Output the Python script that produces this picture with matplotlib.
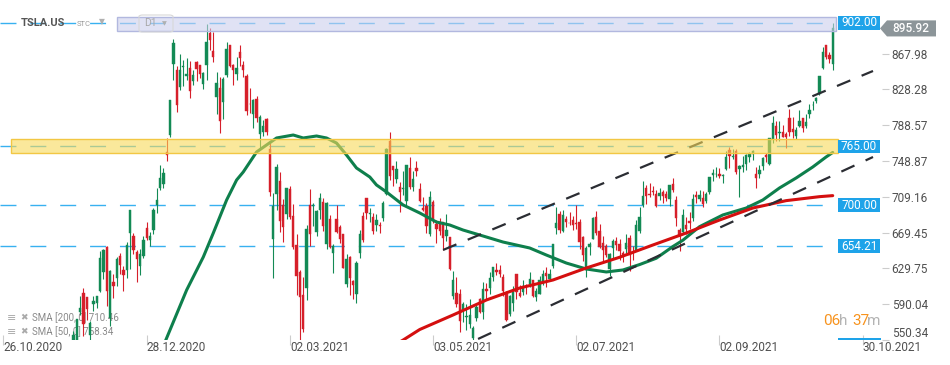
import numpy as np
import matplotlib
matplotlib.use("Agg")
import matplotlib.pyplot as plt
from matplotlib.patches import Rectangle, Polygon, FancyBboxPatch
from matplotlib.transforms import blended_transform_factory

# daily bars, first visible one (24.11.2020) is bar 21 counted from 26.10.2020
first_bar = 21
opens = [540.40, 550.06, 581.16, 602.21, 597.59, 556.44, 590.02, 591.01, 604.92, 625.51,
         653.69, 574.37, 615.01, 619.00, 643.28, 628.23, 628.19, 668.90, 666.24, 648.00,
         632.20, 642.99, 674.51, 661.00, 672.00, 699.99, 719.46, 723.66, 758.49, 777.63,
         856.00, 849.40, 831.00, 852.76, 843.39, 852.00, 837.80, 858.74, 855.00, 834.31,
         855.00, 891.38, 870.35, 820.00, 830.00, 814.29, 844.68, 877.02, 855.00, 845.00,
         869.67, 855.12, 843.64, 812.44, 801.26, 818.00, 779.09, 780.90, 795.00, 762.64,
         662.13, 711.85, 726.15, 700.00, 690.11, 718.28, 687.99, 655.80, 626.06, 600.55,
         608.18, 700.30, 699.40, 670.00, 694.09, 703.35, 656.87, 684.29, 646.60, 684.59,
         675.77, 667.91, 613.00, 641.87, 615.64, 601.75, 646.62, 688.37, 707.71, 690.30,
         687.00, 677.38, 677.77, 685.70, 712.70, 770.70, 743.10, 728.65, 719.60, 717.42,
         704.77, 741.50, 719.80, 741.00, 717.96, 696.41, 699.51, 667.59, 703.80, 678.94,
         681.06, 680.76, 665.80, 664.90, 599.24, 602.49, 601.54, 583.41, 575.55, 568.00,
         552.55, 575.00, 596.11, 581.60, 607.31, 607.56, 620.24, 628.50, 627.80, 620.13,
         601.80, 579.71, 591.83, 623.01, 602.17, 603.88, 610.23, 612.23, 616.69, 597.54,
         601.89, 613.37, 624.48, 618.25, 632.00, 674.99, 689.58, 671.64, 684.65, 679.77,
         683.92, 678.98, 681.71, 664.27, 628.37, 653.18, 662.20, 686.32, 670.75, 658.39,
         654.68, 629.29, 651.99, 659.61, 656.44, 646.36, 650.97, 663.40, 647.00, 649.79,
         671.76, 700.00, 719.00, 711.00, 716.00, 711.90, 710.17, 713.99, 712.71, 706.34,
         723.71, 705.07, 672.66, 669.75, 678.21, 682.85, 685.44, 710.68, 707.03, 708.31,
         705.00, 714.72, 733.00, 734.08, 734.50, 732.25, 740.00, 761.58, 753.41, 759.60,
         740.21, 742.57, 745.00, 752.83, 757.15, 734.56, 734.79, 743.53, 755.00, 745.89,
         773.12, 787.20, 779.80, 781.00, 778.40, 796.50, 784.80, 776.20, 787.20, 796.21,
         787.65, 800.93, 810.47, 815.49, 823.73, 851.77, 877.53, 866.60, 856.00]
highs = [559.99, 574.00, 598.78, 607.80, 597.85, 571.54, 598.97, 599.04, 648.79, 651.28,
         654.32, 627.75, 624.00, 642.75, 646.90, 632.50, 658.82, 695.00, 668.50, 649.88,
         651.50, 666.09, 681.40, 669.90, 696.60, 718.72, 744.49, 740.84, 774.00, 816.99,
         884.49, 854.43, 868.00, 860.47, 863.00, 859.90, 850.00, 859.50, 855.72, 848.00,
         900.40, 895.90, 891.50, 848.00, 842.41, 842.00, 880.50, 878.08, 856.50, 864.77,
         877.77, 859.80, 844.82, 829.88, 817.33, 821.00, 799.84, 794.69, 796.79, 768.50,
         713.61, 745.00, 737.21, 706.70, 719.00, 721.11, 700.70, 668.45, 627.84, 620.13,
         678.09, 717.85, 702.50, 694.88, 713.18, 707.92, 703.73, 689.23, 657.23, 699.62,
         677.80, 668.02, 645.50, 643.82, 616.48, 637.66, 672.00, 692.42, 708.16, 696.55,
         691.38, 689.55, 680.97, 704.80, 763.00, 780.79, 743.69, 749.41, 725.40, 737.25,
         744.84, 753.77, 737.36, 749.30, 724.00, 708.50, 702.25, 715.47, 706.00, 683.45,
         685.30, 681.02, 690.00, 665.05, 627.10, 620.41, 606.46, 592.87, 589.73, 596.25,
         566.21, 588.85, 596.68, 614.48, 613.99, 626.17, 631.13, 635.59, 633.80, 623.36,
         604.55, 600.61, 610.00, 623.09, 611.79, 616.59, 612.56, 625.49, 616.79, 608.50,
         621.47, 628.35, 631.39, 628.57, 657.20, 697.62, 693.81, 694.70, 687.51, 692.81,
         687.99, 700.00, 684.00, 665.70, 654.43, 658.91, 687.24, 693.28, 678.61, 666.14,
         656.70, 647.20, 662.39, 664.86, 662.17, 648.80, 668.20, 666.50, 654.97, 683.69,
         697.53, 726.94, 722.65, 724.90, 720.95, 716.33, 719.03, 716.59, 715.18, 722.80,
         729.90, 709.50, 674.58, 695.77, 686.55, 692.13, 712.13, 715.22, 716.97, 715.40,
         715.00, 731.00, 740.39, 741.99, 740.97, 734.00, 760.20, 764.45, 762.10, 762.61,
         744.78, 754.47, 756.86, 758.91, 761.04, 742.00, 744.74, 753.67, 758.20, 774.80,
         799.00, 793.50, 793.50, 789.13, 780.78, 806.97, 797.31, 786.66, 805.00, 796.38,
         801.24, 812.32, 815.41, 820.25, 843.21, 875.00, 877.95, 869.49, 902.00]
lows = [526.20, 545.37, 578.45, 554.51, 572.05, 541.21, 582.43, 585.50, 603.05, 618.50,
        588.00, 566.34, 596.80, 610.20, 623.80, 605.00, 619.50, 628.54, 646.07, 614.23,
        622.57, 641.00, 660.80, 655.00, 668.36, 691.12, 717.19, 719.20, 749.10, 775.20,
        838.39, 803.62, 827.34, 832.00, 838.75, 819.10, 833.00, 837.28, 841.42, 828.62,
        838.82, 871.60, 858.66, 801.00, 780.10, 795.56, 842.20, 853.06, 833.42, 838.97,
        854.75, 841.75, 800.02, 801.73, 785.33, 792.44, 762.01, 776.27, 777.37, 710.20,
        619.00, 694.17, 670.58, 659.51, 685.05, 685.00, 651.71, 600.00, 539.49, 558.79,
        595.21, 655.06, 677.18, 666.14, 684.04, 671.00, 651.01, 652.00, 624.62, 668.75,
        657.51, 630.11, 609.50, 599.89, 596.02, 591.01, 641.11, 659.42, 684.70, 681.37,
        667.84, 671.65, 669.43, 682.09, 710.66, 728.03, 721.31, 724.60, 691.80, 710.69,
        698.00, 718.04, 715.46, 732.61, 703.35, 693.60, 668.50, 666.14, 680.50, 657.70,
        667.34, 650.00, 660.22, 627.61, 595.60, 586.77, 559.65, 570.46, 561.20, 563.38,
        546.98, 571.07, 580.00, 573.65, 595.71, 601.50, 616.21, 622.38, 620.55, 599.14,
        571.22, 577.20, 582.88, 595.50, 597.63, 600.50, 601.52, 609.18, 598.23, 593.50,
        601.34, 611.80, 608.88, 615.50, 630.04, 667.61, 668.70, 670.32, 675.89, 678.14,
        672.80, 673.26, 651.40, 638.32, 620.46, 644.69, 662.16, 666.30, 652.84, 637.88,
        642.20, 621.29, 640.50, 650.29, 639.10, 637.30, 647.11, 627.24, 639.40, 648.80,
        669.00, 698.40, 701.01, 708.93, 711.41, 697.63, 705.13, 701.88, 704.21, 699.40,
        714.34, 676.40, 648.84, 669.35, 667.59, 673.70, 682.70, 702.64, 704.00, 697.62,
        702.10, 712.73, 726.44, 731.27, 730.54, 724.20, 739.26, 740.77, 751.63, 734.52,
        708.85, 736.40, 738.36, 747.61, 750.00, 718.63, 730.44, 739.12, 747.92, 744.56,
        769.31, 770.68, 770.68, 775.00, 763.59, 776.12, 774.20, 773.22, 786.22, 780.91,
        785.50, 796.57, 805.78, 813.35, 822.35, 851.27, 862.51, 857.38, 849.86]
closes = [555.38, 574.00, 585.76, 567.60, 584.76, 568.82, 593.38, 599.04, 641.76, 649.88,
          604.48, 627.07, 609.99, 639.83, 633.25, 622.77, 655.90, 695.00, 649.86, 640.34,
          645.98, 661.77, 663.69, 665.99, 694.78, 705.67, 729.77, 735.11, 755.98, 816.04,
          880.02, 811.19, 849.44, 854.41, 845.00, 826.16, 844.55, 850.45, 844.99, 846.64,
          880.80, 883.09, 864.16, 835.43, 793.53, 839.81, 872.79, 854.69, 849.99, 852.23,
          863.42, 849.46, 804.82, 811.66, 816.12, 796.22, 798.15, 787.38, 781.30, 714.50,
          698.84, 742.02, 682.22, 675.50, 718.43, 686.44, 653.20, 621.44, 597.95, 563.00,
          673.58, 668.06, 699.60, 693.73, 707.94, 676.88, 701.81, 653.16, 654.87, 670.00,
          662.16, 630.27, 640.39, 618.71, 611.29, 635.62, 667.93, 661.75, 691.05, 691.62,
          670.97, 683.80, 677.02, 701.98, 762.32, 732.23, 738.85, 739.78, 714.63, 718.99,
          744.12, 719.69, 729.40, 738.20, 704.74, 694.40, 677.00, 709.44, 684.90, 673.60,
          670.94, 663.54, 672.37, 629.04, 617.20, 589.89, 571.69, 589.74, 576.83, 577.87,
          563.46, 586.78, 580.88, 606.44, 604.69, 619.13, 630.85, 625.22, 623.90, 605.12,
          572.84, 599.05, 605.13, 603.59, 598.78, 610.12, 609.89, 617.69, 599.36, 604.87,
          616.60, 623.31, 620.83, 623.71, 656.57, 679.82, 671.87, 688.72, 680.76, 679.70,
          677.92, 678.90, 659.58, 644.65, 652.81, 656.95, 685.70, 668.54, 653.38, 650.60,
          644.22, 646.22, 660.50, 655.29, 649.26, 643.38, 657.62, 644.78, 646.98, 677.35,
          687.20, 709.67, 709.74, 710.92, 714.63, 699.10, 713.76, 709.99, 707.82, 722.25,
          717.17, 686.17, 665.71, 688.99, 673.47, 680.26, 706.30, 708.49, 711.20, 701.16,
          711.92, 730.91, 735.72, 734.09, 732.39, 733.57, 752.92, 753.87, 754.86, 736.27,
          743.00, 744.49, 755.83, 756.99, 759.49, 730.17, 739.38, 751.94, 753.64, 774.39,
          791.36, 777.56, 781.31, 775.48, 775.22, 781.53, 780.59, 782.75, 793.61, 785.49,
          791.94, 805.72, 811.08, 818.32, 843.03, 870.11, 864.27, 862.00, 895.92]

# moving averages (bar, value)
sma50_bars = [46, 49, 55, 60, 63, 67, 70, 72, 76, 82, 87, 90, 94, 97, 100, 103, 106, 110,
              112, 115, 120, 125, 130, 134, 138, 143, 150, 158, 163, 169, 175, 181, 186,
              191, 196, 201, 204, 209, 216, 223, 228, 233, 238, 243, 247, 249]
sma50_vals = [526.0, 552.6, 605.8, 642.4, 669.0, 705.6, 727.8, 736.7, 758.9, 774.4, 777.7,
              774.4, 776.6, 774.4, 768.8, 755.5, 741.1, 731.1, 722.3, 714.5, 700.1, 691.2,
              681.2, 677.9, 672.3, 666.8, 659.0, 652.4, 644.6, 635.7, 629.1, 625.8, 628.0,
              634.0, 641.0, 654.0, 661.0, 676.0, 689.0, 696.7, 705.6, 718.9, 730.0, 742.2,
              753.3, 758.34]
sma200_bars = [118, 120, 125, 135, 145, 155, 165, 175, 185, 195, 205, 215, 225, 235, 245, 249]
sma200_vals = [546.0, 550.3, 562.0, 578.1, 594.7, 608.0, 616.9, 630.2, 642.1, 655.7, 669.0,
               683.4, 696.7, 704.9, 709.3, 710.46]

# drawn trend channel (bar, price)
upper_trend = ([132.0, 261.1], [650.2, 848.7])
lower_trend = ([142.5, 261.1], [551.5, 753.3])

levels = [902.00, 765.00, 700.00, 654.21]
yellow_zone = [757.7, 773.3]
lilac_zone = [893.1, 908.6]
last_price = 895.92

price_ticks = [550.34, 590.04, 629.75, 669.45, 709.16, 748.87, 788.57, 828.28, 867.98]
date_ticks = [0, 43, 86, 129, 172, 215, 258]
date_labels = ['26.10.2020', '28.12.2020', '02.03.2021', '03.05.2021',
               '02.07.2021', '02.09.2021', '30.10.2021']

GREEN = '#138a55'
RED = '#d61f2a'
BLUE = '#1ea3e9'
LEVEL_BLUE = '#38b1f0'
SMA_GREEN = '#0e7f4c'
SMA_RED = '#d40f0f'

plt.rcParams['font.family'] = ['Roboto', 'DejaVu Sans']

W, H = 950, 365
fig = plt.figure(figsize=(W / 100, H / 100), dpi=100)
ax = fig.add_axes([0, 25 / H, 882 / W, 325 / H])
ax.set_xlim(-1.05, 263.8)
ax.set_ylim(550.34, 910.8)
for s in ax.spines.values():
    s.set_visible(False)

# candles
bars = np.arange(len(closes)) + first_bar
o, h, l, c = (np.array(v) for v in (opens, highs, lows, closes))
colors = np.where(c >= o, GREEN, RED)
ax.vlines(bars, l, h, colors=colors, lw=0.8, zorder=2)
ax.bar(bars, np.maximum(np.abs(c - o), 0.8), bottom=np.minimum(o, c), width=0.7,
       color=colors, edgecolor=colors, lw=0.3, zorder=3)

# moving averages and channel
ax.plot(sma50_bars, sma50_vals, color=SMA_GREEN, lw=2.2, zorder=4, solid_capstyle='round')
ax.plot(sma200_bars, sma200_vals, color=SMA_RED, lw=2.2, zorder=4, solid_capstyle='round')
for xs, ys in (upper_trend, lower_trend):
    ax.plot(xs, ys, color='#2b2d33', lw=1.6, ls=(0, (6.5, 5.5)), zorder=5)

# horizontal levels
for lv in levels:
    ax.plot([-1.05, 250], [lv, lv], color=LEVEL_BLUE, lw=1.0, ls=(0, (11.5, 10)), zorder=1.5)

# zones (semi-transparent, drawn above the candles)
ax.add_patch(Rectangle((2.25, yellow_zone[0]), 248.3, yellow_zone[1] - yellow_zone[0],
                       facecolor=(0.973, 0.855, 0.345, 0.6), edgecolor='#f2c744', lw=1, zorder=6))
ax.add_patch(Rectangle((34.1, lilac_zone[0]), 215.9, lilac_zone[1] - lilac_zone[0],
                       facecolor=(0.80, 0.816, 0.93, 0.6), edgecolor='#b2b8df', lw=1, zorder=6))

# axes ticks
ax.yaxis.tick_right()
ax.set_yticks(price_ticks, [f'{v:.2f}' for v in price_ticks])
ax.tick_params(axis='y', length=5, width=0.8, color='#cccccc', pad=2,
               labelsize=8.5, labelcolor='#505050')
ax.get_yticklabels()[0].set_va('bottom')
ax.set_xticks(date_ticks, date_labels)
ax.tick_params(axis='x', length=7, width=0.8, direction='inout', color='#cccccc', pad=-3,
               labelsize=8.5, labelcolor='#505050')
for lab in ax.get_xticklabels():
    lab.set_ha('left')

# price tags on the right
tr = blended_transform_factory(ax.transAxes, ax.transData)
for lv in levels:
    ax.add_patch(Rectangle((838 / 882, lv - 7.6), 42 / 882, 15.2, transform=tr,
                           facecolor=BLUE, edgecolor='none', zorder=8, clip_on=False))
    ax.text(859 / 882, lv, f'{lv:.2f}', transform=tr, ha='center', va='center',
            color='white', fontsize=8.5, zorder=9, clip_on=False)
dy = 8.9
px = np.array([880, 887, 936, 936, 887]) / 882
py = last_price + np.array([0, dy, dy, -dy, -dy])
ax.add_patch(Polygon(np.column_stack([px, py]), closed=True, transform=tr,
                     facecolor='#8c9599', edgecolor='none', zorder=8, clip_on=False))
ax.text(911 / 882, last_price, f'{last_price:.2f}', transform=tr, ha='center', va='center',
        color='white', fontsize=8.5, fontweight='medium', zorder=9, clip_on=False)


def fp(x, y):
    return x / W, 1 - y / H


ft = fig.transFigure

# header
ax.text(*fp(21, 23.5), 'TSLA.US', transform=ft, fontsize=8, fontweight='bold',
        color='#555555', va='center', zorder=10)
ax.text(*fp(77, 24.5), 'STC', transform=ft, fontsize=5.5, color='#9a9a9a', va='center', zorder=10)
ax.text(*fp(99, 21.5), '▼', transform=ft, fontsize=5.5, color='#b0b0b0', va='center',
        family=['DejaVu Sans'], zorder=10)
ax.add_patch(FancyBboxPatch(fp(139, 32), 34 / W, 17 / H, boxstyle='round,pad=0,rounding_size=0.004',
                            transform=ft, facecolor='none', edgecolor='#d8d8d8', lw=0.8,
                            zorder=10, clip_on=False))
ax.text(*fp(144, 23.5), 'D1', transform=ft, fontsize=7.5, color='#a8a8a8', va='center', zorder=10)
ax.text(*fp(162, 23.5), '▼', transform=ft, fontsize=4.5, color='#b0b0b0', va='center',
        family=['DejaVu Sans'], zorder=10)

# indicator legend (sits below the candles)
for yy, label in ((318, 'SMA [200, 0] 710.46'), (332, 'SMA [50, 0] 758.34')):
    ax.text(*fp(7, yy), '≡', transform=ft, fontsize=8, color='#aaaaaa', va='center',
            family=['DejaVu Sans'], zorder=1)
    ax.text(*fp(20, yy), '✖', transform=ft, fontsize=6.5, color='#aaaaaa', va='center',
            family=['DejaVu Sans'], zorder=1)
    ax.text(*fp(32, yy), label, transform=ft, fontsize=7, color='#8a8a8a', va='center', zorder=1)

# bar countdown
for x0, txt, col in ((823, '06', '#f7931e'), (839.5, 'h', '#b4b4b4'),
                     (852, '37', '#f7931e'), (867.5, 'm', '#b4b4b4')):
    ax.text(*fp(x0, 325), txt, transform=ft, fontsize=11, color=col, va='baseline',
            zorder=10, clip_on=False)
ax.add_patch(Rectangle(fp(838, 339.5), 43 / W, 2 / H, transform=ft, facecolor=BLUE,
                       edgecolor='none', zorder=10, clip_on=False))

fig.savefig('out.png', dpi=100)
